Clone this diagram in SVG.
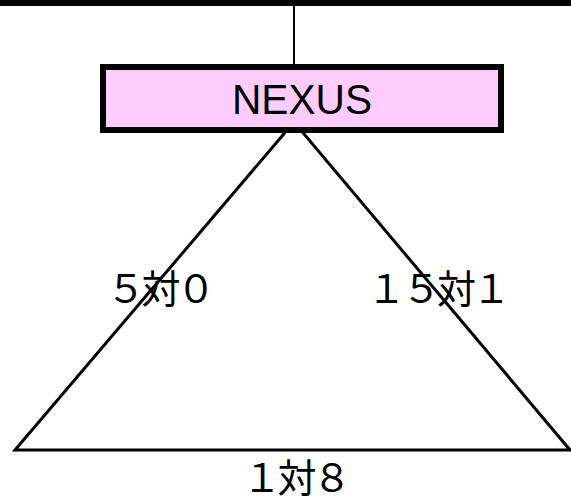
<svg xmlns="http://www.w3.org/2000/svg" width="571" height="504" viewBox="0 0 571 504">
  <style>
    .ln { stroke: #000; fill: none; }
    .lbl { font-family: "Noto Sans CJK JP", "Liberation Sans", sans-serif; font-size: 39px; letter-spacing: -4px; fill: #000; text-anchor: middle; }
    .nx { font-family: "Liberation Sans", Arial, sans-serif; font-size: 42px; fill: #000; text-anchor: middle; }
  </style>
  <rect x="0" y="0" width="571" height="504" fill="#fff"/>
  <g id="connectors">
    <line class="ln" x1="0" y1="3" x2="571" y2="3" stroke-width="6"/>
    <line class="ln" x1="294" y1="6" x2="294" y2="64" stroke-width="2"/>
  </g>
  <g id="triangle">
    <polygon class="ln" points="294,122 15,450 570,450" stroke-width="3" stroke-linejoin="miter"/>
  </g>
  <g id="nexus">
    <rect x="103" y="67" width="398" height="63" fill="#FFCCFF" stroke="#000" stroke-width="6"/>
    <text class="nx" x="302" y="114" textLength="140" lengthAdjust="spacingAndGlyphs">NEXUS</text>
  </g>
  <g id="labels">
    <text class="lbl" x="159" y="303">５対０</text>
    <text class="lbl" x="437" y="303">１５対１</text>
    <text class="lbl" x="295" y="492">１対８</text>
  </g>
</svg>
